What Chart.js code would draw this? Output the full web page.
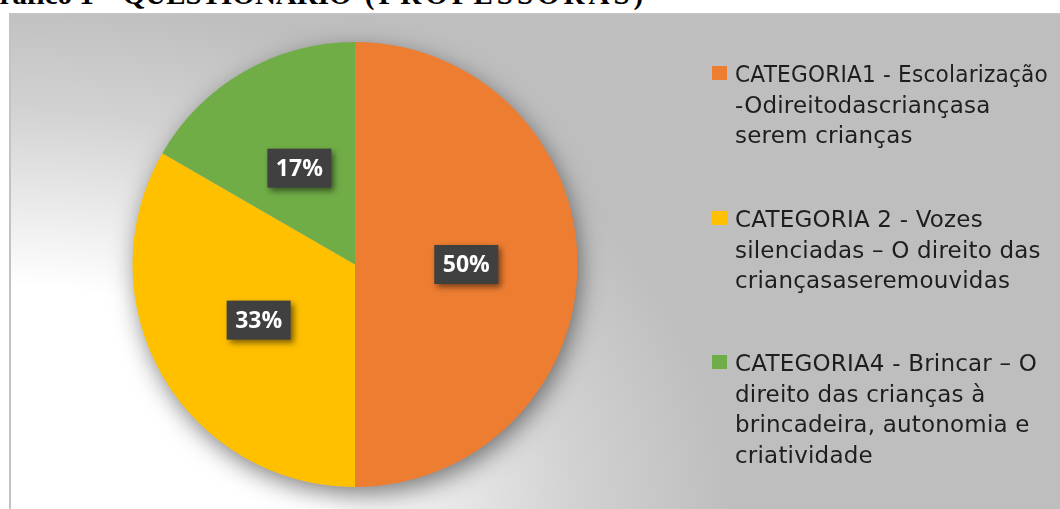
<!DOCTYPE html>
<html>
<head>
<meta charset="utf-8">
<script src="https://cdn.jsdelivr.net/npm/chart.js@4"></script>
<style>
  html, body { margin: 0; padding: 0; background: #fff; }
  body { width: 1060px; height: 509px; position: relative; overflow: hidden; }
  #title {
    position: absolute; left: -23px; top: -22px; white-space: nowrap; line-height: 33px;
    font: bold 29px "Liberation Serif", serif; color: #000;
  }
  #title span { letter-spacing: 4px; margin-left: 6px; }
  #box {
    position: absolute; left: 9px; top: 13px; width: 1060px; height: 520px;
    border-left: 2px solid #c3c3c3; border-top: 2px solid #c3c3c3;
    background: radial-gradient(ellipse 720px 520px at 0px 500px, #ffffff 0%, #ffffff 44%, #d2d2d2 78%, #bebebe 100%);
  }
  #wrap { position: absolute; left: 0; top: 0; width: 1060px; height: 509px; }
</style>
</head>
<body>
<div id="title">Gráfico 1 – QUESTIONÁRIO <span>(PROFESSORAS)</span></div>
<div id="box"></div>
<div id="wrap"><canvas id="chart"></canvas></div>
<script>
const labels = [
  ['CATEGORIA1 - Escolarização', '-Odireitodascriançasa', 'serem crianças'],
  ['CATEGORIA 2 - Vozes', 'silenciadas – O direito das', 'criançasaseremouvidas'],
  ['CATEGORIA4 - Brincar – O', 'direito das crianças à', 'brincadeira, autonomia e', 'criatividade']
];
const values = [3, 2, 1];
const colors = ['#ED7D31', '#FFC000', '#70AD47'];

// soft shadow under the whole pie
const pieShadow = {
  id: 'pieShadow',
  beforeDatasetsDraw(chart) {
    const arc = chart.getDatasetMeta(0).data[0];
    if (!arc) return;
    const ctx = chart.ctx;
    ctx.save();
    ctx.shadowColor = 'rgba(0,0,0,0.5)';
    ctx.shadowBlur = 24;
    ctx.shadowOffsetX = 3;
    ctx.shadowOffsetY = 8;
    ctx.fillStyle = '#bbbbbb';
    ctx.beginPath();
    ctx.arc(arc.x, arc.y, arc.outerRadius - 1, 0, Math.PI * 2);
    ctx.fill();
    ctx.restore();
  }
};

// dark percentage boxes on the slices
const pctBoxes = {
  id: 'pctBoxes',
  afterDatasetsDraw(chart) {
    const ctx = chart.ctx;
    const data = chart.data.datasets[0].data;
    const total = data.reduce((a, b) => a + b, 0);
    chart.getDatasetMeta(0).data.forEach((arc, i) => {
      const p = arc.getProps(['x', 'y', 'startAngle', 'endAngle', 'outerRadius']);
      const mid = (p.startAngle + p.endAngle) / 2;
      const cx = p.x + Math.cos(mid) * p.outerRadius * 0.5;
      const cy = p.y + Math.sin(mid) * p.outerRadius * 0.5;
      const w = 64, h = 39;
      ctx.save();
      ctx.shadowColor = 'rgba(0,0,0,0.5)';
      ctx.shadowBlur = 6;
      ctx.shadowOffsetX = 3;
      ctx.shadowOffsetY = 3;
      ctx.fillStyle = '#404040';
      ctx.fillRect(cx - w / 2, cy - h / 2, w, h);
      ctx.restore();
      ctx.save();
      ctx.fillStyle = '#ffffff';
      ctx.font = 'bold 23px "Open Sans", sans-serif';
      ctx.textAlign = 'center';
      ctx.textBaseline = 'middle';
      ctx.fillText(Math.round(data[i] / total * 100) + '%', cx, cy + 1);
      ctx.restore();
    });
  }
};

// legend on the right, wrapped lines
const sideLegend = {
  id: 'sideLegend',
  afterDraw(chart) {
    const ctx = chart.ctx;
    const tops = [66, 211, 355];
    const lineH = 30.5;
    ctx.save();
    ctx.font = '23px "DejaVu Sans", sans-serif';
    ctx.letterSpacing = '0.2px';
    ctx.textBaseline = 'alphabetic';
    chart.data.labels.forEach((lines, i) => {
      ctx.fillStyle = chart.data.datasets[0].backgroundColor[i];
      ctx.fillRect(712, tops[i], 15, 14);
      ctx.fillStyle = '#1e1e1e';
      lines.forEach((t, k) => {
        ctx.fillText(t, 735, tops[i] + 16 + k * lineH, 313);
      });
    });
    ctx.restore();
  }
};

new Chart(document.getElementById('chart'), {
  type: 'pie',
  data: {
    labels: labels,
    datasets: [{
      data: values,
      backgroundColor: colors,
      borderWidth: 0
    }]
  },
  options: {
    responsive: true,
    maintainAspectRatio: false,
    animation: false,
    layout: { padding: { left: 132, right: 482, top: 42, bottom: 22 } },
    plugins: {
      legend: { display: false },
      tooltip: { enabled: false }
    }
  },
  plugins: [pieShadow, pctBoxes, sideLegend]
});
</script>
</body>
</html>
